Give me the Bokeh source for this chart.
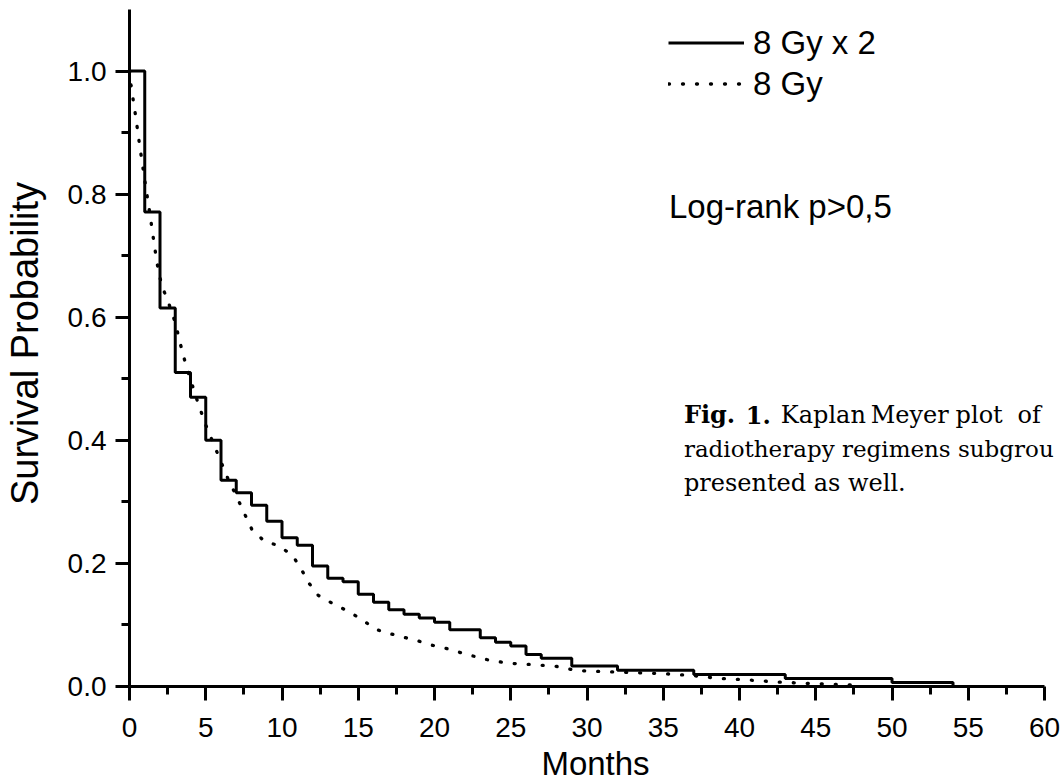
from bokeh.plotting import figure
from bokeh.models import (Range1d, FixedTicker, PrintfTickFormatter, Label,
                          Legend, LegendItem)
from bokeh.embed import file_html
from bokeh.resources import INLINE

# ---- data ----
months_8x2 = [0, 1, 2, 3, 4, 5, 6, 7, 8, 9, 10, 11, 12, 13, 14, 15, 16, 17, 18,
              19, 20, 21, 23, 24, 25, 26, 27, 29, 32, 37, 43, 50, 54]
surv_8x2 = [1.0, 0.771, 0.615, 0.510, 0.470, 0.400, 0.335, 0.315, 0.2945,
            0.2686, 0.2416, 0.2297, 0.1956, 0.176, 0.170, 0.1497, 0.137,
            0.1248, 0.1173, 0.1113, 0.1043, 0.0924, 0.0794, 0.0718, 0.0659,
            0.0519, 0.0459, 0.0334, 0.0264, 0.0194, 0.013, 0.0065, 0.0]

months_8 = [0, 0.1, 0.39, 0.65, 0.92, 1.20, 1.35, 1.61, 1.90, 2.14, 2.49, 2.84,
            3.10, 3.32, 3.56, 3.84, 4.5, 5.0, 5.5, 6.0, 6.5, 7.0, 7.5, 8.01,
            8.84, 9.76, 10.69, 11.28, 11.76, 12.38, 13.31, 14.27, 15.17, 16.13,
            17.05, 17.98, 18.93, 19.86, 20.80, 21.72, 22.66, 23.6, 24.53,
            25.45, 26.39, 27.33, 28.27, 29.18, 30.12, 31.06, 32.94, 34.81,
            36.67, 38.53, 40.43, 42.28, 44.14, 46.04, 47.91]
surv_8 = [1.0, 0.976, 0.929, 0.882, 0.836, 0.790, 0.766, 0.720, 0.674, 0.650,
          0.628, 0.604, 0.581, 0.558, 0.535, 0.511, 0.46, 0.425, 0.395, 0.365,
          0.335, 0.31, 0.283, 0.256, 0.236, 0.229, 0.213, 0.190, 0.168, 0.148,
          0.135, 0.123, 0.110, 0.093, 0.086, 0.080, 0.074, 0.067, 0.0616,
          0.055, 0.0487, 0.0427, 0.039, 0.0367, 0.0356, 0.034, 0.032, 0.0264,
          0.0248, 0.0243, 0.0227, 0.0211, 0.0183, 0.0135, 0.0108, 0.0076,
          0.0054, 0.0038, 0.0021]

x_major = [0, 5, 10, 15, 20, 25, 30, 35, 40, 45, 50, 55, 60]
x_minor = [2.5, 7.5, 12.5, 17.5, 22.5, 27.5, 32.5, 37.5, 42.5, 47.5, 52.5, 57.5]
y_major = [0.0, 0.2, 0.4, 0.6, 0.8, 1.0]
y_minor = [0.1, 0.3, 0.5, 0.7, 0.9]

series_labels = ["8 Gy x 2", "8 Gy"]

SANS = "Liberation Sans"
SERIF = "DejaVu Serif"

# frame: left edge 128 px, right edge at canvas edge; x axis drawn 0..60 only
PX_PER_MONTH = 916 / 60
PX_PER_UNIT = 678 / 1.1
x_end = (1061 - 128) / PX_PER_MONTH
y_end = 687 / PX_PER_UNIT

p = figure(width=1061, height=784, x_range=Range1d(0, x_end),
           y_range=Range1d(0, y_end),
           output_backend="svg", toolbar_location=None,
           min_border_left=128, min_border_right=0, min_border_top=0,
           min_border_bottom=97)
p.outline_line_color = None
p.xgrid.visible = False
p.ygrid.visible = False
p.background_fill_color = "white"
p.border_fill_color = "white"

r_solid = p.step(months_8x2, surv_8x2, mode="after", line_color="black",
                 line_width=3)
r_dot = p.line(months_8, surv_8, line_color="black", line_width=3.3,
               line_dash="1 13", line_cap="round")

for ax, maj, mnr, bnd in ((p.xaxis[0], x_major, x_minor, (0, 60)),
                          (p.yaxis[0], y_major, y_minor, (0, 1.1))):
    ax.ticker = FixedTicker(ticks=maj, minor_ticks=mnr)
    ax.bounds = bnd
    ax.axis_line_width = 3
    ax.axis_line_color = "black"
    ax.major_tick_line_width = 3
    ax.minor_tick_line_width = 3
    ax.major_tick_out = 14
    ax.major_tick_in = 0
    ax.minor_tick_out = 8
    ax.minor_tick_in = 0
    ax.major_label_text_font = SANS
    ax.major_label_text_font_size = "28px"
    ax.major_label_text_color = "black"
    ax.axis_label_text_font = SANS
    ax.axis_label_text_font_style = "normal"
    ax.axis_label_text_color = "black"

p.xaxis[0].major_label_standoff = 17
p.yaxis[0].major_label_standoff = 9
p.yaxis[0].formatter = PrintfTickFormatter(format="%.1f")

p.xaxis[0].axis_label = "Months"
p.xaxis[0].axis_label_text_font_size = "33px"
p.xaxis[0].axis_label_standoff = 5
p.yaxis[0].axis_label = "Survival Probability"
p.yaxis[0].axis_label_text_font_size = "38px"
p.yaxis[0].axis_label_standoff = 19

# legend
legend = Legend(items=[LegendItem(label=series_labels[0], renderers=[r_solid]),
                       LegendItem(label=series_labels[1], renderers=[r_dot])],
                location=(539, 582), orientation="vertical",
                glyph_width=76, glyph_height=41, label_height=41, spacing=0,
                padding=0, margin=0, label_standoff=9,
                label_text_font=SANS, label_text_font_size="33px",
                label_text_color="black", border_line_color=None,
                background_fill_alpha=0)
p.add_layout(legend)


def dx(px):
    return (px - 128) / PX_PER_MONTH


def dy(py):
    return (687 - py) / PX_PER_UNIT


p.add_layout(Label(x=dx(668), y=dy(206), text="Log-rank p>0,5", text_align="left",
                   text_baseline="alphabetic", text_font=SANS,
                   text_font_size="33px", text_color="black"))

# caption text (justified in the original)
caption = [
    ("Fig.", 683, 415, "bold", 24), ("1.", 745, 415, "bold", 24),
    ("Kaplan", 780, 415, "normal", 24), ("Meyer", 870, 415, "normal", 24),
    ("plot", 955, 415, "normal", 24), ("of", 1017, 415, "normal", 24),
    ("radiotherapy regimens subgrou", 683, 449, "normal", 23),
    ("presented as well.", 683, 483, "normal", 24),
]
for txt, px, py, style, fs in caption:
    p.add_layout(Label(x=dx(px), y=dy(py), text=txt, text_align="left",
                       text_baseline="alphabetic", text_font=SERIF,
                       text_font_size=f"{fs}px", text_font_style=style,
                       text_color="black"))

open("out.html", "w").write(file_html(p, INLINE))
